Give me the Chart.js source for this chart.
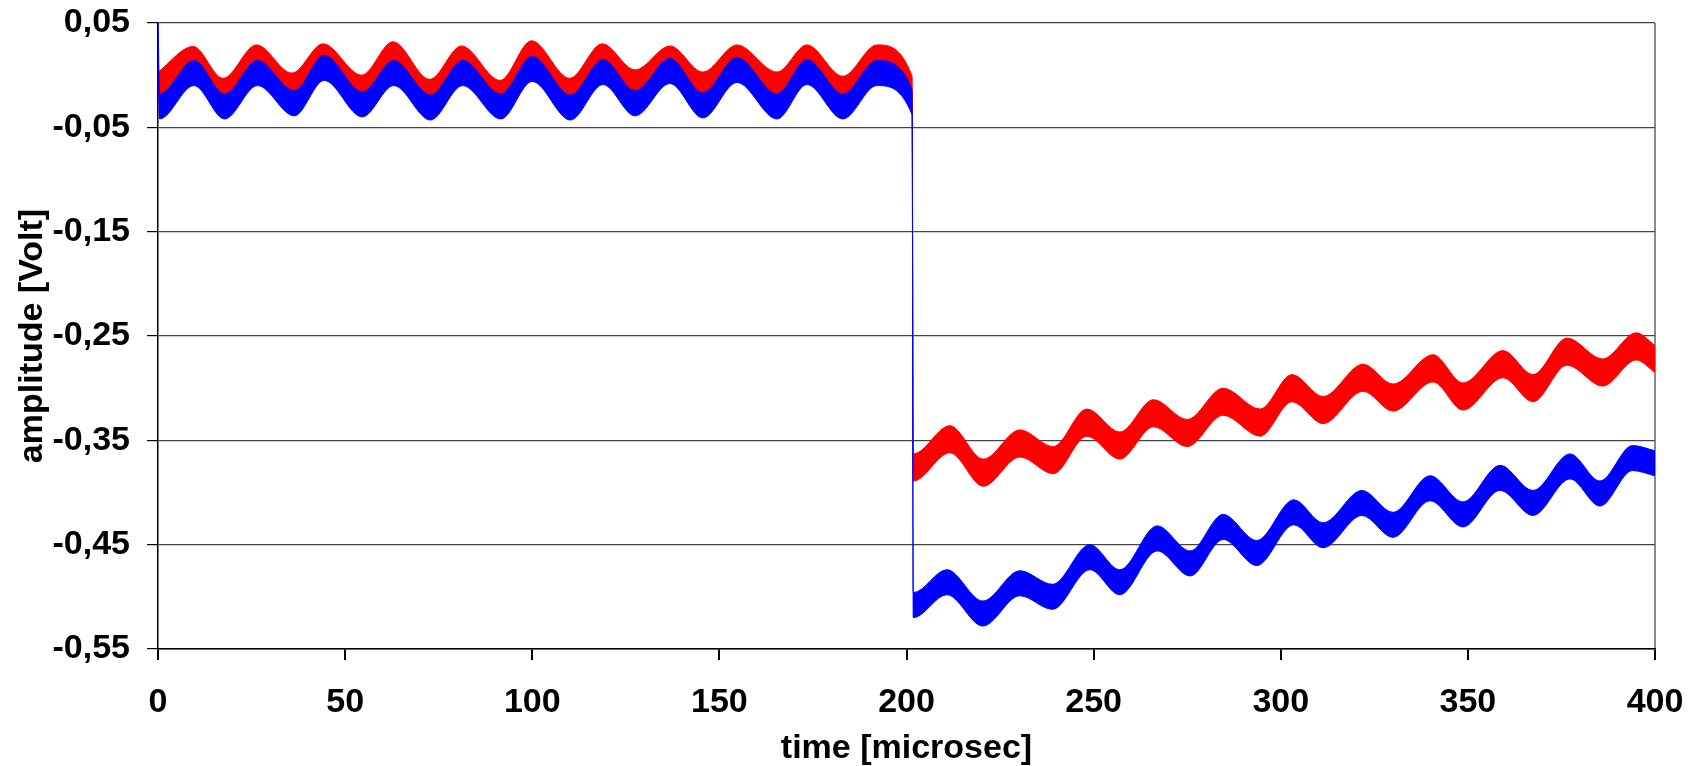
<!DOCTYPE html>
<html>
<head>
<meta charset="utf-8">
<script src="https://cdn.jsdelivr.net/npm/chart.js@4.4.1/dist/chart.umd.min.js"></script>
<style>
  html, body { margin: 0; padding: 0; background: #fff; }
</style>
</head>
<body>
<canvas id="chart" width="1702" height="766"></canvas>
<script>
// traces: time in microsec, centre of the noisy trace in Volt
const redTime = [0, 9.4, 17.4, 26.3, 35.8, 44.1, 54.4, 62.8, 72.6, 81.1, 91.4, 99.8, 110, 118.7, 127.5,
  136.8, 145.6, 154.7, 165.4, 173.4, 183, 192.1, 201.5, 201.8, 211.6, 220.5, 230.3, 239.2, 248.2, 257,
  266, 275, 284.6, 294.5, 303, 311.3, 322, 330, 340.7, 348.7, 359.4, 367.4, 376.5, 386, 395, 400];
const redVolt = [-0.010, 0.0145, -0.016, 0.016, -0.011, 0.017, -0.013, 0.019, -0.017, 0.015, -0.018, 0.020, -0.016, 0.017, -0.008,
  0.015, -0.010, 0.016, -0.010, 0.016, -0.014, 0.016, -0.014, -0.376, -0.349, -0.381, -0.353, -0.369, -0.333, -0.355,
  -0.324, -0.343, -0.313, -0.333, -0.300, -0.321, -0.290, -0.309, -0.281, -0.308, -0.277, -0.300, -0.265, -0.285, -0.260, -0.272];

const blueTime = [0, 0.4, 9.6, 17.8, 26.6, 36.4, 44.4, 54.6, 63, 72.8, 81.4, 91.6, 100, 110.2, 118.9,
  127.5, 136.8, 145.6, 154.7, 165.4, 173.4, 183, 192.1, 201.5, 201.8, 210.8, 220.4, 230.3, 239, 249,
  257, 267, 275.8, 284.6, 293.6, 303.5, 311.3, 321.7, 330, 339.9, 348.7, 358.6, 367.4, 377.3, 385.3, 394, 400];
const blueVolt = [0.05, -0.030, 0.002, -0.030, 0.002, -0.027, 0.007, -0.028, 0.002, -0.031, 0.002, -0.030, 0.006, -0.031, 0.003,
  -0.027, 0.004, -0.029, 0.005, -0.030, 0.003, -0.030, 0.002, -0.026, -0.508, -0.486, -0.516, -0.487, -0.500, -0.462,
  -0.486, -0.444, -0.468, -0.433, -0.458, -0.419, -0.441, -0.410, -0.431, -0.396, -0.421, -0.386, -0.410, -0.375, -0.401, -0.367, -0.372];

// half height of the noise band around each trace (Volt)
const redNoise = 0.013;
const blueNoise = 0.012;

const xTickValues = [0, 50, 100, 150, 200, 250, 300, 350, 400];
const yTickValues = [0.05, -0.05, -0.15, -0.25, -0.35, -0.45, -0.55];

const FONT = "'Liberation Sans', Arial, sans-serif";

function edge(times, volts, off) {
  return times.map((t, i) => ({ x: t, y: volts[i] + off }));
}

function bandSets(times, volts, half, color) {
  const common = {
    borderColor: color,
    backgroundColor: color,
    borderWidth: 1,
    pointRadius: 0,
    cubicInterpolationMode: 'monotone',
  };
  return [
    { ...common, data: edge(times, volts, half), fill: '+1' },
    { ...common, data: edge(times, volts, -half), fill: false },
  ];
}

new Chart(document.getElementById('chart'), {
  type: 'line',
  data: {
    datasets: [
      ...bandSets(blueTime, blueVolt, blueNoise, '#0000ff'),
      ...bandSets(redTime, redVolt, redNoise, '#ff0000'),
    ],
  },
  options: {
    responsive: false,
    animation: false,
    devicePixelRatio: 1,
    layout: { padding: { left: 8, right: 47, top: 23, bottom: 0 } },
    plugins: { legend: { display: false }, tooltip: { enabled: false } },
    scales: {
      x: {
        type: 'linear',
        min: 0,
        max: 400,
        afterBuildTicks: (s) => { s.ticks = xTickValues.map(v => ({ value: v })); },
        afterFit: (s) => { s.height = 117; s.paddingLeft = 0; s.paddingRight = 0; },
        grid: {
          color: (c) => (c.tick && c.tick.value === 400 ? '#8a8a8a' : 'rgba(0,0,0,0)'),
          lineWidth: 2,
          tickColor: '#000',
          tickLength: 11,
        },
        border: { color: '#000', width: 1.5 },
        ticks: {
          padding: 22,
          color: '#000',
          font: { family: FONT, size: 34, weight: 'bold' },
          maxRotation: 0,
        },
        title: {
          display: true,
          text: 'time [microsec]',
          color: '#000',
          font: { family: FONT, size: 34, weight: 'bold', lineHeight: 1 },
          padding: { top: 0, bottom: 0 },
        },
      },
      y: {
        type: 'linear',
        min: -0.55,
        max: 0.05,
        afterBuildTicks: (s) => { s.ticks = yTickValues.map(v => ({ value: v })); },
        afterFit: (s) => { s.width = 150; s.paddingTop = 0; s.paddingBottom = 0; },
        grid: {
          color: '#444',
          lineWidth: 1.2,
          tickColor: '#000',
          tickLength: 11,
        },
        border: { color: '#000', width: 1.5 },
        ticks: {
          padding: 17,
          color: '#000',
          font: { family: FONT, size: 34, weight: 'bold' },
          callback: (v) => v.toFixed(2).replace('.', ','),
        },
        title: {
          display: true,
          text: 'amplitude [Volt]',
          color: '#000',
          font: { family: FONT, size: 34, weight: 'bold', lineHeight: 1 },
          padding: { top: 8, bottom: 0 },
        },
      },
    },
  },
});
</script>
</body>
</html>
